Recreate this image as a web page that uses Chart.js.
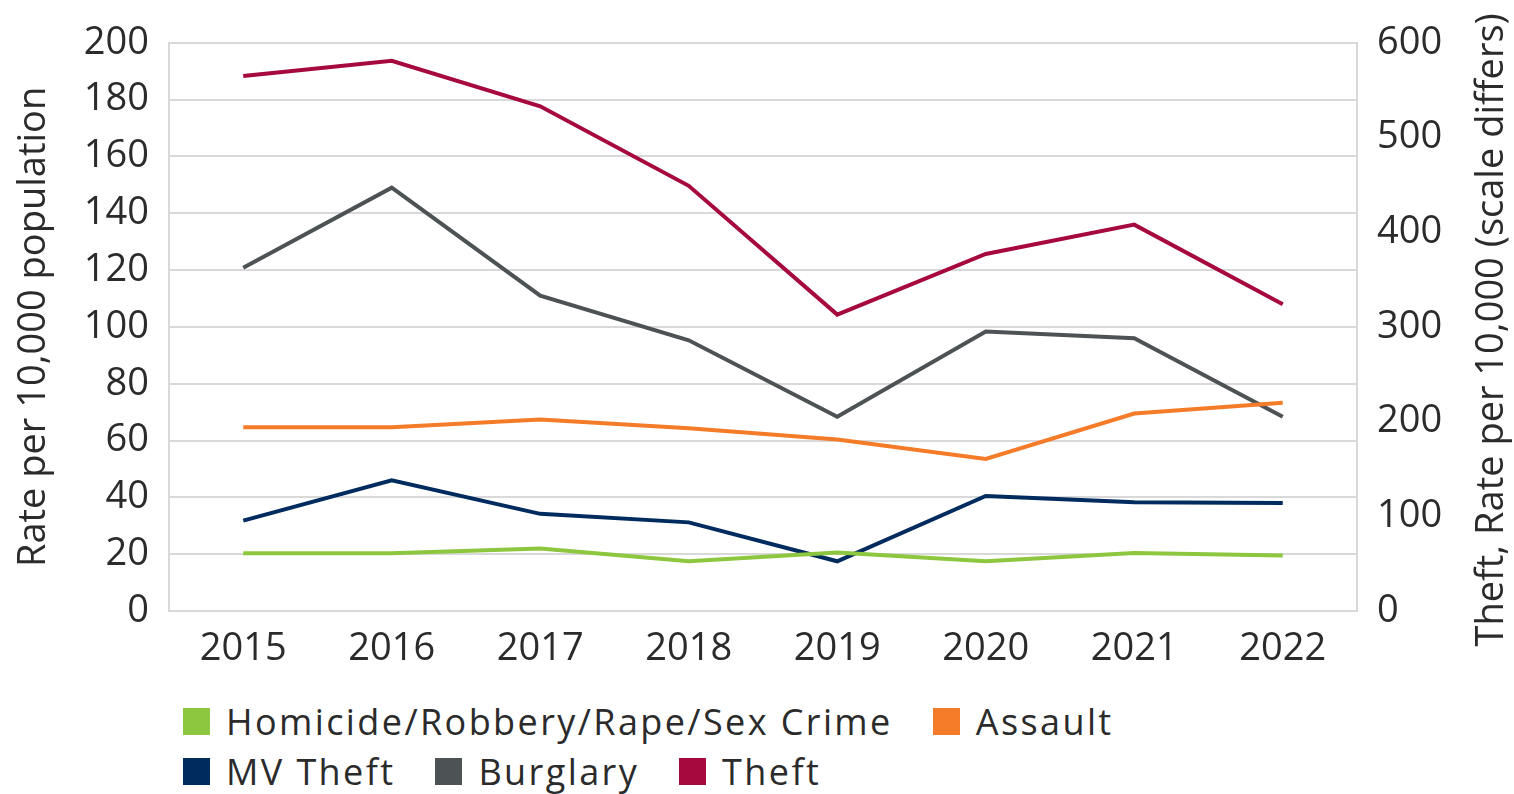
<!DOCTYPE html>
<html>
<head>
<meta charset="utf-8">
<script src="https://cdn.jsdelivr.net/npm/chart.js@4.4.0/dist/chart.umd.min.js"></script>
<style>
    html, body { margin: 0; padding: 0; background: #fff; }
    #wrap { position: relative; width: 1514px; height: 794px; overflow: hidden; }
    #chartBox { position: absolute; left: 0; top: 0; width: 1514px; height: 680px; }
    #legend { position: absolute; left: 183px; top: 696px; font-family: 'Open Sans', sans-serif; font-size: 36px; letter-spacing: 2.4px; color: #2b2b2b; }
    .row { display: flex; align-items: center; height: 50px; white-space: nowrap; }
    .item { display: flex; align-items: center; margin-right: 40px; }
    .box { width: 27px; height: 27px; margin-right: 16px; }
</style>
</head>
<body>
<div id="wrap">
    <div id="chartBox"><canvas id="crimeChart"></canvas></div>
    <div id="legend"></div>
</div>
<script>
// Crime rates per 10,000 population, 2015-2022

const years = ['2015', '2016', '2017', '2018', '2019', '2020', '2021', '2022'];

const violent = [20.3, 20.3, 22.0, 17.5, 20.6, 17.5, 20.4, 19.5];
const assault = [64.7, 64.7, 67.4, 64.3, 60.4, 53.5, 69.5, 73.3];
const mvTheft = [31.8, 46.0, 34.2, 31.2, 17.5, 40.5, 38.3, 38.0];
const burglary = [120.8, 149.0, 111.0, 95.3, 68.4, 98.4, 96.0, 68.4];
const theft = [565, 581, 533, 449, 313, 377, 408, 324];   // right axis

const leftTicks = [0, 200, 20];
const rightTicks = [0, 600, 100];

const seriesNames = ['Homicide/Robbery/Rape/Sex Crime', 'Assault', 'MV Theft', 'Burglary', 'Theft'];
const seriesColors = ['#8dc63f', '#f47b28', '#002b5f', '#4d5254', '#a6093d'];
const legendRows = [[0, 1], [2, 3, 4]];

const FONT = "'Open Sans', sans-serif";
const GRID = '#d9d9d9';
const TEXT = '#2b2b2b';

function makeSet(i, data, axis) {
    return {
        label: seriesNames[i],
        data: data,
        yAxisID: axis,
        borderColor: seriesColors[i],
        backgroundColor: seriesColors[i],
        borderWidth: 4,
        pointRadius: 0,
        tension: 0,
        fill: false
    };
}

// right axis title reads bottom-to-top, so draw it ourselves
const rightTitle = {
    id: 'rightTitle',
    afterDraw(chart) {
        const ctx = chart.ctx;
        const area = chart.chartArea;
        ctx.save();
        ctx.translate(1492, (area.top + area.bottom) / 2 + 3);
        ctx.rotate(-Math.PI / 2);
        ctx.font = '38px ' + FONT;
        ctx.fillStyle = TEXT;
        ctx.textAlign = 'center';
        ctx.textBaseline = 'middle';
        ctx.fillText('Theft, Rate per 10,000 (scale differs)', 0, 0);
        ctx.restore();
    }
};

function initializeChart() {
    const ctx = document.getElementById('crimeChart');

    new Chart(ctx, {
        type: 'line',
        data: {
            labels: years,
            datasets: [
                makeSet(0, violent, 'y'),
                makeSet(1, assault, 'y'),
                makeSet(2, mvTheft, 'y'),
                makeSet(3, burglary, 'y'),
                makeSet(4, theft, 'y1')
            ]
        },
        options: {
            responsive: true,
            maintainAspectRatio: false,
            animation: false,
            layout: { padding: { top: 38, left: 0, right: 0, bottom: 0 } },
            plugins: {
                legend: { display: false },
                tooltip: { enabled: false }
            },
            scales: {
                x: {
                    offset: true,
                    grid: { display: false },
                    border: { display: false },
                    ticks: {
                        color: TEXT,
                        padding: 7,
                        font: { family: FONT, size: 38 }
                    },
                    afterFit: function(scale) { scale.height = 69; }
                },
                y: {
                    position: 'left',
                    min: leftTicks[0],
                    max: leftTicks[1],
                    ticks: {
                        stepSize: leftTicks[2],
                        color: TEXT,
                        padding: 20,
                        font: { family: FONT, size: 38 }
                    },
                    grid: { color: GRID, lineWidth: 2, drawTicks: false },
                    border: { display: true, color: GRID, width: 2 },
                    title: {
                        display: true,
                        text: 'Rate per 10,000 population',
                        color: TEXT,
                        padding: { top: 11, bottom: 0 },
                        font: { family: FONT, size: 38 }
                    },
                    afterFit: function(scale) { scale.width = 169; }
                },
                y1: {
                    position: 'right',
                    min: rightTicks[0],
                    max: rightTicks[1],
                    ticks: {
                        stepSize: rightTicks[2],
                        color: TEXT,
                        padding: 20,
                        font: { family: FONT, size: 38 }
                    },
                    grid: { drawOnChartArea: false, drawTicks: false },
                    border: { display: true, color: GRID, width: 2 },
                    afterFit: function(scale) { scale.width = 157; }
                }
            }
        },
        plugins: [rightTitle]
    });
}

function buildLegend() {
    const legend = document.getElementById('legend');
    legendRows.forEach(row => {
        const rowEl = document.createElement('div');
        rowEl.className = 'row';
        row.forEach(i => {
            const item = document.createElement('div');
            item.className = 'item';
            const box = document.createElement('span');
            box.className = 'box';
            box.style.background = seriesColors[i];
            const label = document.createElement('span');
            label.textContent = seriesNames[i];
            item.appendChild(box);
            item.appendChild(label);
            rowEl.appendChild(item);
        });
        legend.appendChild(rowEl);
    });
}

buildLegend();
initializeChart();
</script>
</body>
</html>
